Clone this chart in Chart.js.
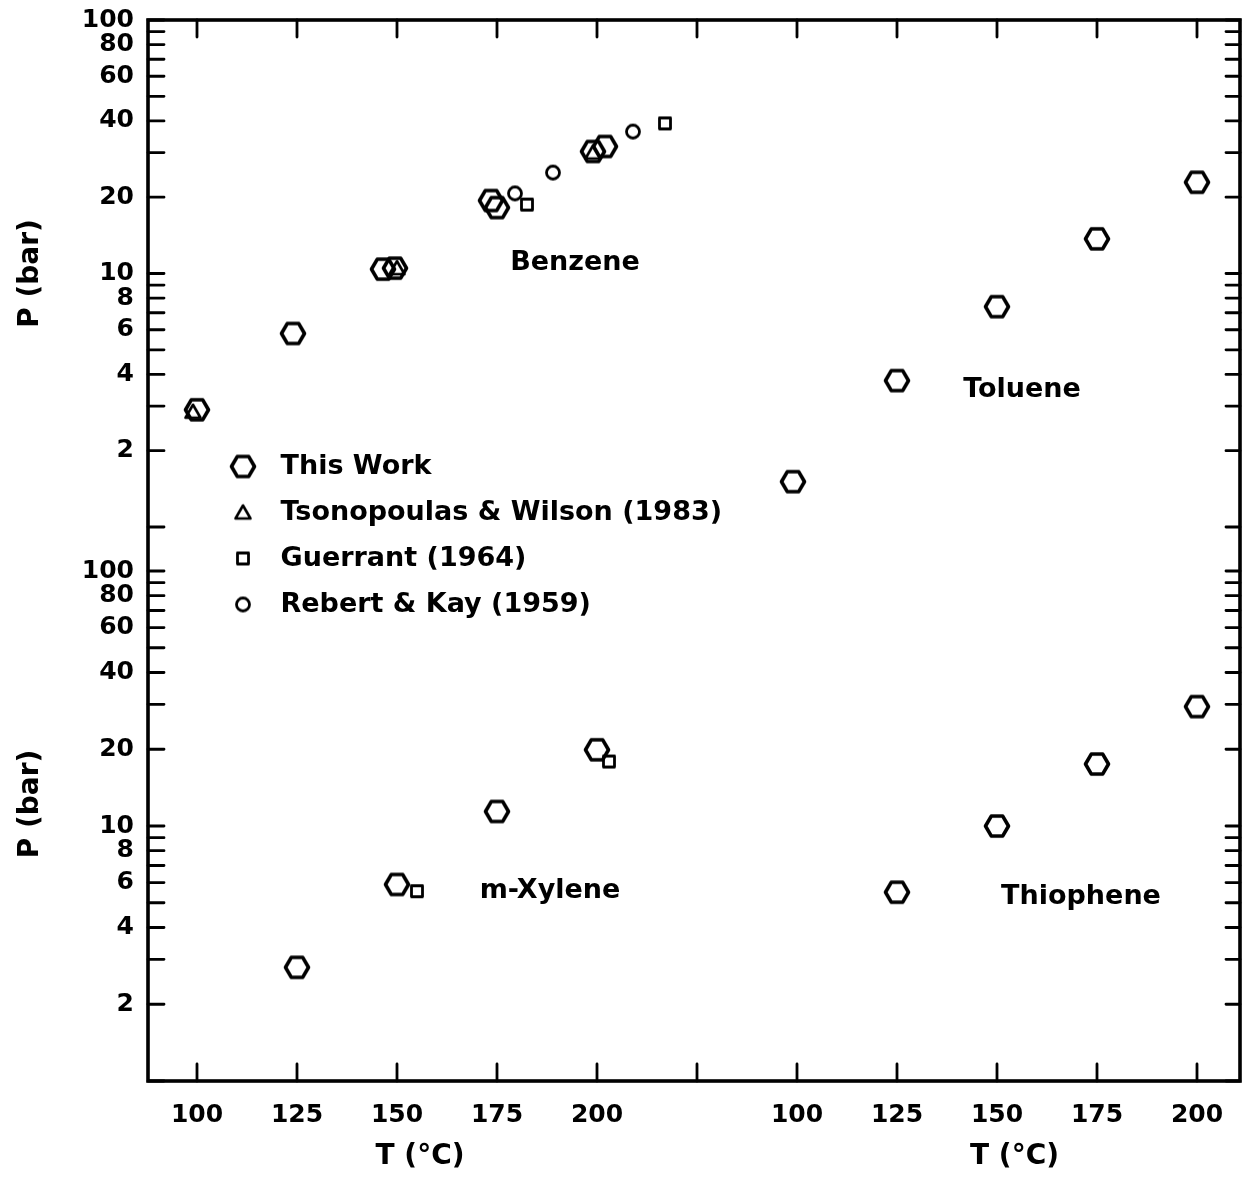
<!DOCTYPE html>
<html>
<head>
<meta charset="utf-8">
<script src="https://cdn.jsdelivr.net/npm/chart.js@4.4.1/dist/chart.umd.min.js"></script>
<style>
  html, body { margin: 0; padding: 0; background: #fff; }
  #wrap { width: 1244px; height: 1177px; }
</style>
</head>
<body>
<div id="wrap"><canvas id="vpCanvas"></canvas></div>
<script>
// values, T in degC and P in bar
// benzene: left T axis, upper P axis
const bzWorkT = [100, 124, 146.5, 149.5, 173.5, 175, 199, 202];
const bzWorkP = [2.9, 5.8, 10.4, 10.5, 19.4, 18.2, 30.3, 31.7];
const bzTsonT = [99, 150, 199];
const bzTsonP = [2.85, 10.5, 30];
const bzGuerT = [182.5, 217];
const bzGuerP = [18.7, 39.1];
const bzRebT = [179.5, 189, 209];
const bzRebP = [20.7, 25.0, 36.3];
// toluene: right T axis, upper P axis
const tolT = [99, 125, 150, 175, 200];
const tolP = [1.51, 3.78, 7.4, 13.7, 22.9];
// m-xylene: left T axis, lower P axis
const xylWorkT = [125, 150, 175, 200];
const xylWorkP = [2.79, 5.9, 11.4, 19.9];
const xylGuerT = [155, 203];
const xylGuerP = [5.55, 17.9];
// thiophene: right T axis, lower P axis
const thiT = [125, 150, 175, 200];
const thiP = [5.5, 10, 17.5, 29.4];

// axis ticks
const tTicksLeft = [100, 125, 150, 175, 200, 225];
const tTicksRight = [100, 125, 150, 175, 200];
const tLabels = [100, 125, 150, 175, 200];
const pTicks = [1, 2, 3, 4, 5, 6, 7, 8, 9, 10, 20, 30, 40, 50, 60, 70, 80, 90, 100];
const pLabels = [2, 4, 6, 8, 10, 20, 40, 60, 80, 100];

// compound names, placed in data units
const names = [
  {text: "Benzene", t: 194.5, p: 11.0, xAxis: "x", yAxis: "y"},
  {text: "Toluene", t: 156.25, p: 3.48, xAxis: "x2", yAxis: "y"},
  {text: "m-Xylene", t: 188.25, p: 5.56, xAxis: "x", yAxis: "y2"},
  {text: "Thiophene", t: 171, p: 5.27, xAxis: "x2", yAxis: "y2"}
];

const FONT = "DejaVu Sans";

function marker(kind) {
  const size = kind === "hex" ? 28 : 20;
  const c = document.createElement("canvas");
  c.width = size; c.height = size;
  const g = c.getContext("2d");
  const m = size / 2;
  g.strokeStyle = "#000";
  g.lineJoin = "round";
  g.beginPath();
  if (kind === "hex") {
    g.lineWidth = 3.6;
    const r = 11.5;
    for (let i = 0; i < 6; i++) {
      const a = i * Math.PI / 3;
      g.lineTo(m + r * Math.cos(a), m + r * Math.sin(a));
    }
    g.closePath();
  } else if (kind === "tri") {
    g.lineWidth = 2.6;
    g.moveTo(m, m - 7);
    g.lineTo(m + 7.5, m + 6);
    g.lineTo(m - 7.5, m + 6);
    g.closePath();
  } else if (kind === "sq") {
    g.lineWidth = 2.8;
    g.rect(m - 5.5, m - 5.5, 11, 11);
  } else {
    g.lineWidth = 2.8;
    g.arc(m, m, 6.5, 0, Math.PI * 2);
  }
  g.stroke();
  return c;
}
const hex = marker("hex"), tri = marker("tri"), sq = marker("sq"), circ = marker("circ");

function pts(xs, ys) {
  return xs.map((x, i) => ({x: x, y: ys[i]}));
}

function ds(label, xs, ys, style, xAxis, yAxis, inLegend) {
  return {
    label: label,
    data: pts(xs, ys),
    pointStyle: style,
    pointRadius: 2,
    pointHoverRadius: 0,
    pointBorderWidth: 0,
    clip: false,
    borderColor: "#000",
    backgroundColor: "#000",
    xAxisID: xAxis,
    yAxisID: yAxis,
    inLegend: inLegend
  };
}

const tickFont = {family: FONT, size: 25, weight: "bold"};
const titleFont = {family: FONT, size: 28, weight: "bold"};

function pAxis(weight, max) {
  return {
    type: "logarithmic",
    position: "left",
    stack: "p",
    stackWeight: weight === 2 ? 507 : 554,
    weight: weight,
    min: 1,
    max: max,
    afterBuildTicks: sc => { sc.ticks = pTicks.map(v => ({value: v})); },
    afterFit: sc => { sc.width = 148; sc.paddingTop = 0; sc.paddingBottom = 0; },
    grid: {display: false},
    border: {display: false},
    ticks: {
      autoSkip: false,
      padding: 6,
      color: "#000",
      font: tickFont,
      callback: v => pLabels.includes(v) ? String(v) : ""
    },
    title: {display: true, text: "P (bar)", color: "#000", font: titleFont, padding: {top: 14, bottom: 0}}
  };
}

function tAxis(weight, min, max, tickList, width) {
  return {
    type: "linear",
    position: "bottom",
    stack: "t",
    stackWeight: width,
    weight: weight,
    min: min,
    max: max,
    afterBuildTicks: sc => { sc.ticks = tickList.map(v => ({value: v})); },
    afterFit: sc => { sc.height = 96; sc.paddingLeft = 0; sc.paddingRight = 0; },
    grid: {display: false},
    border: {display: false},
    ticks: {
      autoSkip: false,
      maxRotation: 0,
      padding: 11,
      color: "#000",
      font: tickFont,
      callback: v => tLabels.includes(v) ? String(v) : ""
    },
    title: {display: true, text: "T (°C)", color: "#000", font: titleFont, padding: {top: 4, bottom: 3}}
  };
}

// empty strip between the two T axes, so each title sits under its own panel
const gapAxis = {
  type: "linear",
  position: "bottom",
  stack: "t",
  stackWeight: 97,
  weight: 1.5,
  afterBuildTicks: sc => { sc.ticks = []; },
  afterFit: sc => { sc.height = 96; sc.paddingLeft = 0; sc.paddingRight = 0; },
  grid: {display: false},
  border: {display: false},
  ticks: {display: false}
};

// legend sits inside the plot, left of centre
const legendNudge = {
  id: "legendNudge",
  beforeDraw(chart) {
    const lg = chart.legend, a = chart.chartArea;
    lg.left = a.left + 52;
    lg.right = a.right;
    lg.top = a.top - 15;
    lg.bottom = a.bottom - 15;
  }
};

// frame, inward ticks and compound names
const frame = {
  id: "frame",
  afterDraw(chart) {
    const ctx = chart.ctx, a = chart.chartArea, s = chart.scales;
    ctx.save();
    ctx.strokeStyle = "#000";
    ctx.lineWidth = 2.8;
    ctx.lineCap = "round";
    ["y", "y2"].forEach(id => {
      s[id].ticks.forEach(t => {
        const py = s[id].getPixelForValue(t.value);
        ctx.beginPath();
        ctx.moveTo(a.left, py); ctx.lineTo(a.left + 16, py);
        ctx.moveTo(a.right, py); ctx.lineTo(a.right - 14, py);
        ctx.stroke();
      });
    });
    ["x", "x2"].forEach(id => {
      s[id].ticks.forEach(t => {
        const px = s[id].getPixelForValue(t.value);
        ctx.beginPath();
        ctx.moveTo(px, a.bottom); ctx.lineTo(px, a.bottom - 17);
        ctx.moveTo(px, a.top); ctx.lineTo(px, a.top + 17);
        ctx.stroke();
      });
    });
    ctx.lineWidth = 3.6;
    ctx.lineCap = "butt";
    ctx.strokeRect(a.left, a.top, a.right - a.left, a.bottom - a.top);
    ctx.fillStyle = "#000";
    ctx.font = "bold 27px '" + FONT + "'";
    ctx.textAlign = "center";
    ctx.textBaseline = "middle";
    names.forEach(n => {
      ctx.fillText(n.text, s[n.xAxis].getPixelForValue(n.t), s[n.yAxis].getPixelForValue(n.p));
    });
    ctx.restore();
  }
};

new Chart(document.getElementById("vpCanvas"), {
  type: "scatter",
  data: {
    datasets: [
      ds("This Work", bzWorkT, bzWorkP, hex, "x", "y", true),
      ds("Tsonopoulas & Wilson (1983)", bzTsonT, bzTsonP, tri, "x", "y", true),
      ds("Guerrant (1964)", bzGuerT, bzGuerP, sq, "x", "y", true),
      ds("Rebert & Kay (1959)", bzRebT, bzRebP, circ, "x", "y", true),
      ds("Toluene", tolT, tolP, hex, "x2", "y", false),
      ds("m-Xylene", xylWorkT, xylWorkP, hex, "x", "y2", false),
      ds("m-Xylene Guerrant", xylGuerT, xylGuerP, sq, "x", "y2", false),
      ds("Thiophene", thiT, thiP, hex, "x2", "y2", false)
    ]
  },
  options: {
    responsive: true,
    maintainAspectRatio: false,
    animation: false,
    events: [],
    layout: {autoPadding: false, padding: {top: 20, right: 4, left: 0, bottom: 0}},
    scales: {
      y: pAxis(2, 100),
      y2: pAxis(1, 148.8),
      x: tAxis(1, 87.75, 223.75, tTicksLeft, 544),
      xGap: gapAxis,
      x2: tAxis(2, 98, 210.75, tTicksRight, 451)
    },
    plugins: {
      tooltip: {enabled: false},
      legend: {
        position: "chartArea",
        align: "center",
        labels: {
          usePointStyle: true,
          pointStyleWidth: 48,
          padding: 19,
          color: "#000",
          font: {family: FONT, size: 27, weight: "bold"},
          filter: (item, data) => data.datasets[item.datasetIndex].inLegend
        }
      }
    }
  },
  plugins: [legendNudge, frame]
});
</script>
</body>
</html>
